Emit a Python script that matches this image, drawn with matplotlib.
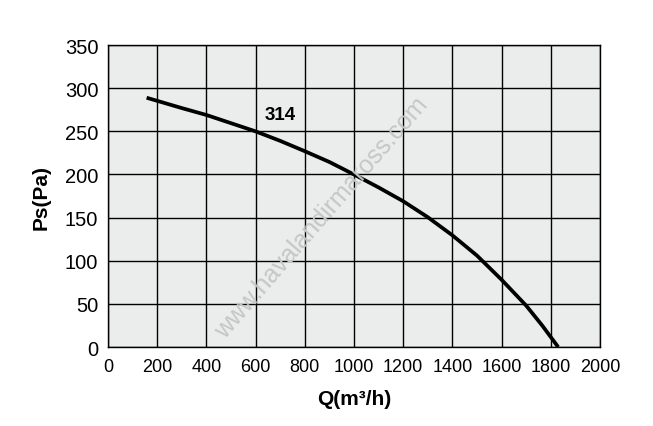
import matplotlib
matplotlib.use("Agg")
import matplotlib.pyplot as plt

plt.rcParams['font.family'] = ['Liberation Sans', 'DejaVu Sans']

# fan curve
q_vals = [157, 300, 400, 500, 600, 700, 800, 900, 1000, 1100, 1200, 1300,
          1400, 1500, 1600, 1700, 1765, 1830]
ps_vals = [289, 277, 269, 259.5, 250, 239, 227, 214.5, 200, 185, 169, 150.5,
           129.5, 106, 78, 48, 25, 0]
curve_name = "314"
x_ticks = [0, 200, 400, 600, 800, 1000, 1200, 1400, 1600, 1800, 2000]
y_ticks = [0, 50, 100, 150, 200, 250, 300, 350]

fig = plt.figure(figsize=(6.53, 4.27), dpi=100)
ax = fig.add_axes([0.1654, 0.185, 0.7534, 0.707])
ax.set_facecolor("#ebecec")

ax.plot(q_vals, ps_vals, color="black", lw=2.7, solid_capstyle="butt",
        solid_joinstyle="round")

ax.set_xlim(0, 2000)
ax.set_ylim(0, 350)
ax.set_xticks(x_ticks)
ax.set_yticks(y_ticks)
ax.grid(True, color="black", lw=1.0)
ax.set_axisbelow(True)
for s in ax.spines.values():
    s.set_color("black")
    s.set_linewidth(1.0)
ax.tick_params(length=0)
ax.tick_params(axis="y", labelsize=14.5, pad=7)
ax.tick_params(axis="x", labelsize=13, pad=8)

ax.text(698, 270, curve_name, fontsize=13.5, fontweight="bold", ha="center", va="center")

ax.text(0.435, 0.43, "www.havalandirmaross.com", transform=ax.transAxes,
        fontsize=18, color="#c6c6c6", rotation=49, ha="center", va="center")

ax.set_xlabel("Q(m³/h)", fontsize=15, fontweight="bold", labelpad=10)
ax.set_ylabel("Ps(Pa)", fontsize=15, fontweight="bold", labelpad=10)

fig.savefig("out.png", dpi=100)
